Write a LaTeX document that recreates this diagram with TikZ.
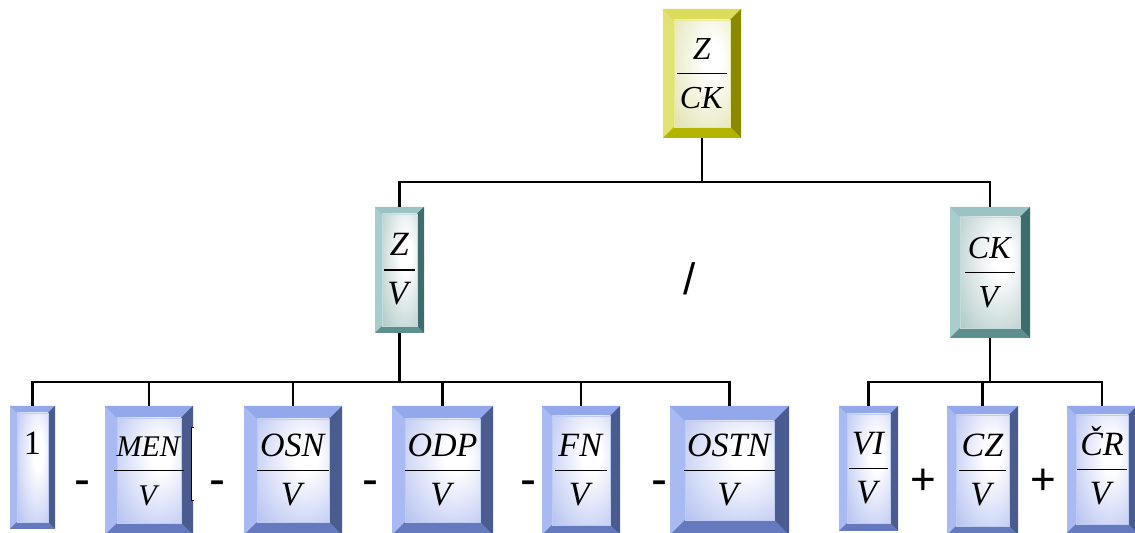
\documentclass[tikz,border=0pt]{standalone}
\usepackage{fontspec}
\setmainfont{Liberation Serif}
\newfontfamily\opfont{Liberation Sans}
\usepackage{xcolor}
\usepackage{tikz}
\definecolor{YelTop}  {HTML}{DCDC5A}
\definecolor{YelLeft} {HTML}{E2E272}
\definecolor{YelRight}{HTML}{8A8A00}
\definecolor{YelBot}  {HTML}{B4B400}
\definecolor{YelIn}   {HTML}{D0D080}
\definecolor{TeaTop}  {HTML}{9CC3C3}
\definecolor{TeaLeft} {HTML}{A9CDCD}
\definecolor{TeaRight}{HTML}{3E6B6B}
\definecolor{TeaBot}  {HTML}{5E8E8E}
\definecolor{TeaIn}   {HTML}{80A6A6}
\definecolor{BluTop}  {HTML}{93A8EA}
\definecolor{BluLeft} {HTML}{A8BAF1}
\definecolor{BluRight}{HTML}{4A5C8F}
\definecolor{BluBot}  {HTML}{6579BE}
\definecolor{BluIn}   {HTML}{889CE8}
% soft glow inside the boxes
\pgfdeclareradialshading{glowYel}{\pgfpoint{10bp}{8bp}}{color(0bp)=(white); color(8bp)=(white); color(64bp)=(YelIn); color(100bp)=(YelIn)}
\pgfdeclareradialshading{glowTea}{\pgfpoint{10bp}{8bp}}{color(0bp)=(white); color(8bp)=(white); color(64bp)=(TeaIn); color(100bp)=(TeaIn)}
\pgfdeclareradialshading{glowBlu}{\pgfpoint{10bp}{8bp}}{color(0bp)=(white); color(8bp)=(white); color(64bp)=(BluIn); color(100bp)=(BluIn)}
\setlength{\arrayrulewidth}{0.9pt}
\newcommand{\ratio}[2]{\begin{tabular}{@{\hspace{1.5pt}}c@{\hspace{1.5pt}}}%
  \rule{0pt}{16pt}\textit{#1}\\[1pt]\hline\rule{0pt}{17pt}\textit{#2}\end{tabular}}
\newcommand{\single}[1]{\begin{tabular}{@{\hspace{1.5pt}}c@{\hspace{1.5pt}}}%
  \rule{0pt}{16pt}#1\\[1pt]\rule{0pt}{17pt}\end{tabular}}
\tikzset{
  bevel/.style 2 args={fill=#1Bot, inner sep=0pt, outer sep=0pt,
    font=\fontsize{17}{19}\selectfont,
    path picture={
      \coordinate (bvnw) at (path picture bounding box.north west);
      \coordinate (bvne) at (path picture bounding box.north east);
      \coordinate (bvsw) at (path picture bounding box.south west);
      \coordinate (bvse) at (path picture bounding box.south east);
      \coordinate (bvinw) at ([shift={(#2,-#2)}]bvnw);
      \coordinate (bvine) at ([shift={(-#2,-#2)}]bvne);
      \coordinate (bvisw) at ([shift={(#2,#2)}]bvsw);
      \coordinate (bvise) at ([shift={(-#2,#2)}]bvse);
      \fill[#1Top] (bvnw) -- (bvne) -- (bvine) -- (bvinw) -- cycle;
      \fill[#1Left] (bvnw) -- (bvinw) -- (bvisw) -- (bvsw) -- cycle;
      \fill[#1Right] (bvne) -- (bvse) -- (bvise) -- (bvine) -- cycle;
      \fill[#1Bot] (bvsw) -- (bvisw) -- (bvise) -- (bvse) -- cycle;
      \shade[shading=glow#1] (bvinw) rectangle (bvise);
      \draw[#1Top!60!white, line width=0.4pt] (bvinw) rectangle (bvise);
    }},
  boxsize/.style 2 args={minimum width=#1*0.5pt, minimum height=#2*0.5pt},
  link/.style={line width=1.1pt},
  oper/.style={inner sep=0pt, font=\opfont\fontsize{24}{24}\selectfont},
  plus/.style={inner sep=0pt, font=\opfont\fontsize{22}{22}\selectfont},
}
\begin{document}
\begin{tikzpicture}[x=0.5pt,y=-0.5pt]
  \useasboundingbox[fill=white] (0,0) rectangle (1135,533);
  % top
  \node[bevel={Yel}{5.5pt},boxsize={78}{129},font=\fontsize{16}{19}\selectfont] (zck) at (702,73.5) {\ratio{Z}{CK}};
  % second level
  \node[bevel={Tea}{3.5pt},boxsize={49}{126}] (zv) at (399.5,270) {\ratio{Z}{V}};
  \node[bevel={Tea}{5pt},boxsize={80}{131},font=\fontsize{16}{19}\selectfont] (ckv) at (990,272.5) {\ratio{CK}{V}};
  % bottom row
  \node[bevel={Blu}{3.5pt},boxsize={45}{123}] (one) at (32.5,467.5) {\single{1}};
  \node[bevel={Blu}{6pt},boxsize={88}{129},font=\fontsize{15}{19}\selectfont] (men) at (149,470.5) {\ratio{MEN}{V}};
  \node[bevel={Blu}{6.5pt},boxsize={98}{129}] (osn) at (293,470.5) {\ratio{OSN}{V}};
  \node[bevel={Blu}{6.5pt},boxsize={101}{129}] (odp) at (442.5,470.5) {\ratio{ODP}{V}};
  \node[bevel={Blu}{5pt},boxsize={78}{129}] (fn) at (581,470.5) {\ratio{FN}{V}};
  \node[bevel={Blu}{7.5pt},boxsize={119}{129}] (ostn) at (729.5,470.5) {\ratio{OSTN}{V}};
  \node[bevel={Blu}{4pt},boxsize={59}{125}] (vi) at (868.5,468.5) {\ratio{VI}{V}};
  \node[bevel={Blu}{4.5pt},boxsize={71}{129}] (cz) at (982.5,470.5) {\ratio{CZ}{V}};
  \node[bevel={Blu}{4.5pt},boxsize={70}{127}] (cr) at (1102,469.5) {\ratio{ČR}{V}};
  % stray edge next to MEN
  \fill[white] (191.5,428) rectangle (194,501);
  \draw[line width=0.5pt] (193.5,428) -- (191.5,428) -- (191.5,501) -- (193.5,501);
  % operators
  \node[oper] (m1) at (82,488.5) {-};
  \node[oper] (m2) at (217,488.5) {-};
  \node[oper] (m3) at (370,488.5) {-};
  \node[oper] (m4) at (528,488.5) {-};
  \node[oper] (m5) at (659,488.5) {-};
  \node[plus] (p1) at (923,482) {+};
  \node[plus] (p2) at (1043,482) {+};
  \node[plus] (dv) at (690,278.5) {/};
  % tree lines
  \draw[link] (zck.south) -- ++(0,44) -| (zv.north)
              (zck.south) -- ++(0,44) -| (ckv.north);
  \draw[link] (zv.south) -- ++(0,49) -| (one.north)
              (zv.south) -- ++(0,49) -| (men.north)
              (zv.south) -- ++(0,49) -| (osn.north)
              (zv.south) -- ++(0,49) -| (odp.north)
              (zv.south) -- ++(0,49) -| (fn.north)
              (zv.south) -- ++(0,49) -| (ostn.north);
  \draw[link] (ckv.south) -- ++(0,44) -| (vi.north)
              (ckv.south) -- ++(0,44) -| (cz.north)
              (ckv.south) -- ++(0,44) -| (cr.north);
\end{tikzpicture}
\end{document}
